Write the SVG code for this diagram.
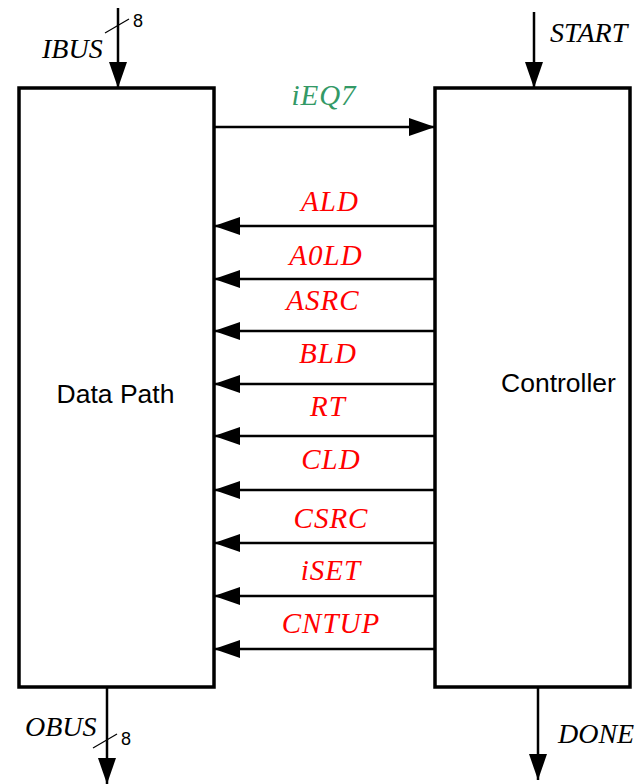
<svg xmlns="http://www.w3.org/2000/svg" width="641" height="784" viewBox="0 0 641 784">
<style>
.box{fill:#fff;stroke:#000;stroke-width:3.5}
.wire{stroke:#000;stroke-width:2.5;fill:none}
.tick{stroke:#000;stroke-width:1.2;fill:none}
.sig{font-family:"Liberation Serif",serif;font-style:italic;font-size:29px;text-anchor:middle;letter-spacing:1px}
.red{fill:#ff0000}
.green{fill:#339966}
.io{font-family:"Liberation Serif",serif;font-style:italic;font-size:28px;fill:#000}
.num{font-family:"Liberation Sans",Arial,sans-serif;font-size:18px;fill:#000}
.lbl{font-family:"Liberation Sans",Arial,sans-serif;font-size:26.5px;fill:#000;text-anchor:middle}
</style>
<defs>
<marker id="ah" markerUnits="userSpaceOnUse" markerWidth="26" markerHeight="18" refX="26" refY="9" orient="auto">
<path d="M0,0 L26,9 L0,18 Z" fill="#000"/>
</marker>
</defs>
<g id="datapath">
<rect class="box" x="19" y="88" width="195" height="599"/>
<text class="lbl" x="115.5" y="403">Data Path</text>
</g>
<g id="controller">
<rect class="box" x="435" y="88" width="195" height="599"/>
<text class="lbl" x="558.5" y="392">Controller</text>
</g>
<g id="connectors">
<line class="wire" x1="118" y1="8" x2="118" y2="88" marker-end="url(#ah)"/>
<line class="tick" x1="105" y1="33" x2="129" y2="19"/>
<line class="wire" x1="534" y1="12" x2="534" y2="88" marker-end="url(#ah)"/>
<line class="wire" x1="107" y1="687" x2="107" y2="784" marker-end="url(#ah)"/>
<line class="tick" x1="93" y1="748" x2="117" y2="734"/>
<line class="wire" x1="538" y1="687" x2="538" y2="780" marker-end="url(#ah)"/>
<line class="wire" x1="214" y1="127" x2="435" y2="127" marker-end="url(#ah)"/>
<line class="wire" x1="435" y1="226" x2="214" y2="226" marker-end="url(#ah)"/>
<line class="wire" x1="435" y1="279" x2="214" y2="279" marker-end="url(#ah)"/>
<line class="wire" x1="435" y1="331" x2="214" y2="331" marker-end="url(#ah)"/>
<line class="wire" x1="435" y1="384" x2="214" y2="384" marker-end="url(#ah)"/>
<line class="wire" x1="435" y1="436" x2="214" y2="436" marker-end="url(#ah)"/>
<line class="wire" x1="435" y1="490" x2="214" y2="490" marker-end="url(#ah)"/>
<line class="wire" x1="435" y1="543" x2="214" y2="543" marker-end="url(#ah)"/>
<line class="wire" x1="435" y1="596" x2="214" y2="596" marker-end="url(#ah)"/>
<line class="wire" x1="435" y1="649" x2="214" y2="649" marker-end="url(#ah)"/>
</g>
<g id="labels">
<text class="io" x="42" y="58">IBUS</text>
<text class="num" x="133" y="27">8</text>
<text class="io" x="550" y="42">START</text>
<text class="io" x="25" y="736">OBUS</text>
<text class="num" x="121" y="745">8</text>
<text class="io" x="558" y="743">DONE</text>
<text class="sig green" x="324" y="105">iEQ7</text>
<text class="sig red" x="330" y="211">ALD</text>
<text class="sig red" x="326" y="265">A0LD</text>
<text class="sig red" x="323" y="310">ASRC</text>
<text class="sig red" x="328" y="363">BLD</text>
<text class="sig red" x="328" y="416">RT</text>
<text class="sig red" x="331" y="469">CLD</text>
<text class="sig red" x="331" y="528">CSRC</text>
<text class="sig red" x="331" y="580">iSET</text>
<text class="sig red" x="331" y="633">CNTUP</text>
</g>
</svg>
